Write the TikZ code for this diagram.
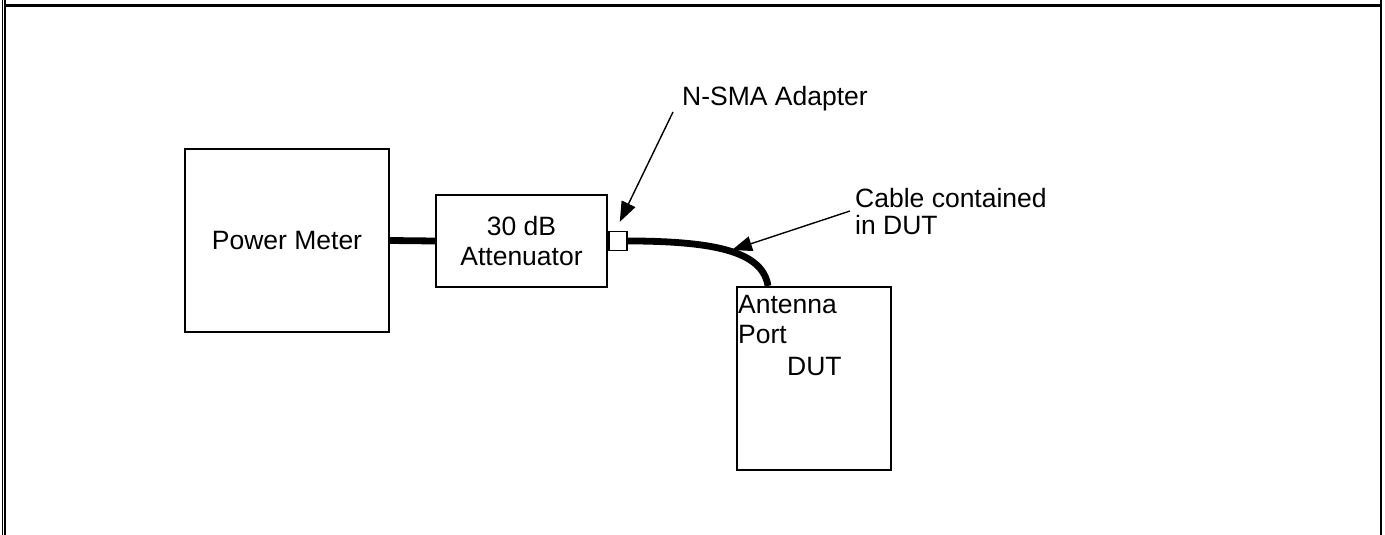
\documentclass[tikz,border=0pt]{standalone}
\usepackage{fontspec}
\setmainfont{Liberation Sans}
\usetikzlibrary{arrows.meta,positioning}

\begin{document}
\begin{tikzpicture}[
  x=1pt, y=-1pt,
  font=\fontsize{26.5}{30}\selectfont,
  box/.style={draw, line width=2.2pt, inner sep=0pt, align=center},
  sbox/.style={draw, line width=1.4pt, fill=white, inner sep=0pt,
               minimum width=18pt, minimum height=19pt},
  lbl/.style={inner sep=0pt, align=left},
  cab/.style={line width=6.8pt},
  arr/.style={-{Triangle[length=20pt,width=15pt]}, line width=1.4pt}
]
\useasboundingbox (0,0) rectangle (1385,535);
% page frame
\draw[line width=1.5pt] (2.3,0) -- (2.3,535);
\draw[line width=2.2pt] (5.3,0) -- (5.3,535);
\draw[line width=3pt] (5.3,5.3) -- (1381,5.3);
\draw[line width=2.5pt] (1381,0) -- (1381,535);

\node[box, minimum width=204pt, minimum height=183pt] (pm) at (287,240.5) {Power Meter};
\node[box, minimum width=171pt, minimum height=92pt] (att) at (521.5,241) {30 dB\\Attenuator};
\node[box, minimum width=154pt, minimum height=183pt] (dut) at (814,378.5) {};
\node[lbl, anchor=base west] (ant) at (738,343) {Antenna\\Port};
\node[lbl, anchor=base west] (dutl) at (787,375) {DUT};

\node[lbl, anchor=base west] (nsma) at (682,106) {N-SMA Adapter};
\node[lbl, anchor=base west, font=\fontsize{26.5}{27}\selectfont] (cbl) at (855,234) {Cable contained\\in DUT};
\coordinate (nsmat) at (673,112);
\coordinate (cblt) at (850,211);
\coordinate (cbltip) at (732,250);

\draw[cab] (pm.east) -- (att.west);
\draw[cab] (att.east) .. controls (705,240) and (762,248) .. ([xshift=-46pt]dut.north);
\node[sbox, right=0pt of att] (adp) {};

\draw[arr] (nsmat) -- ([shift={(2,-9)}]adp.north);
\draw[arr] (cblt) -- (cbltip);
\end{tikzpicture}
\end{document}
